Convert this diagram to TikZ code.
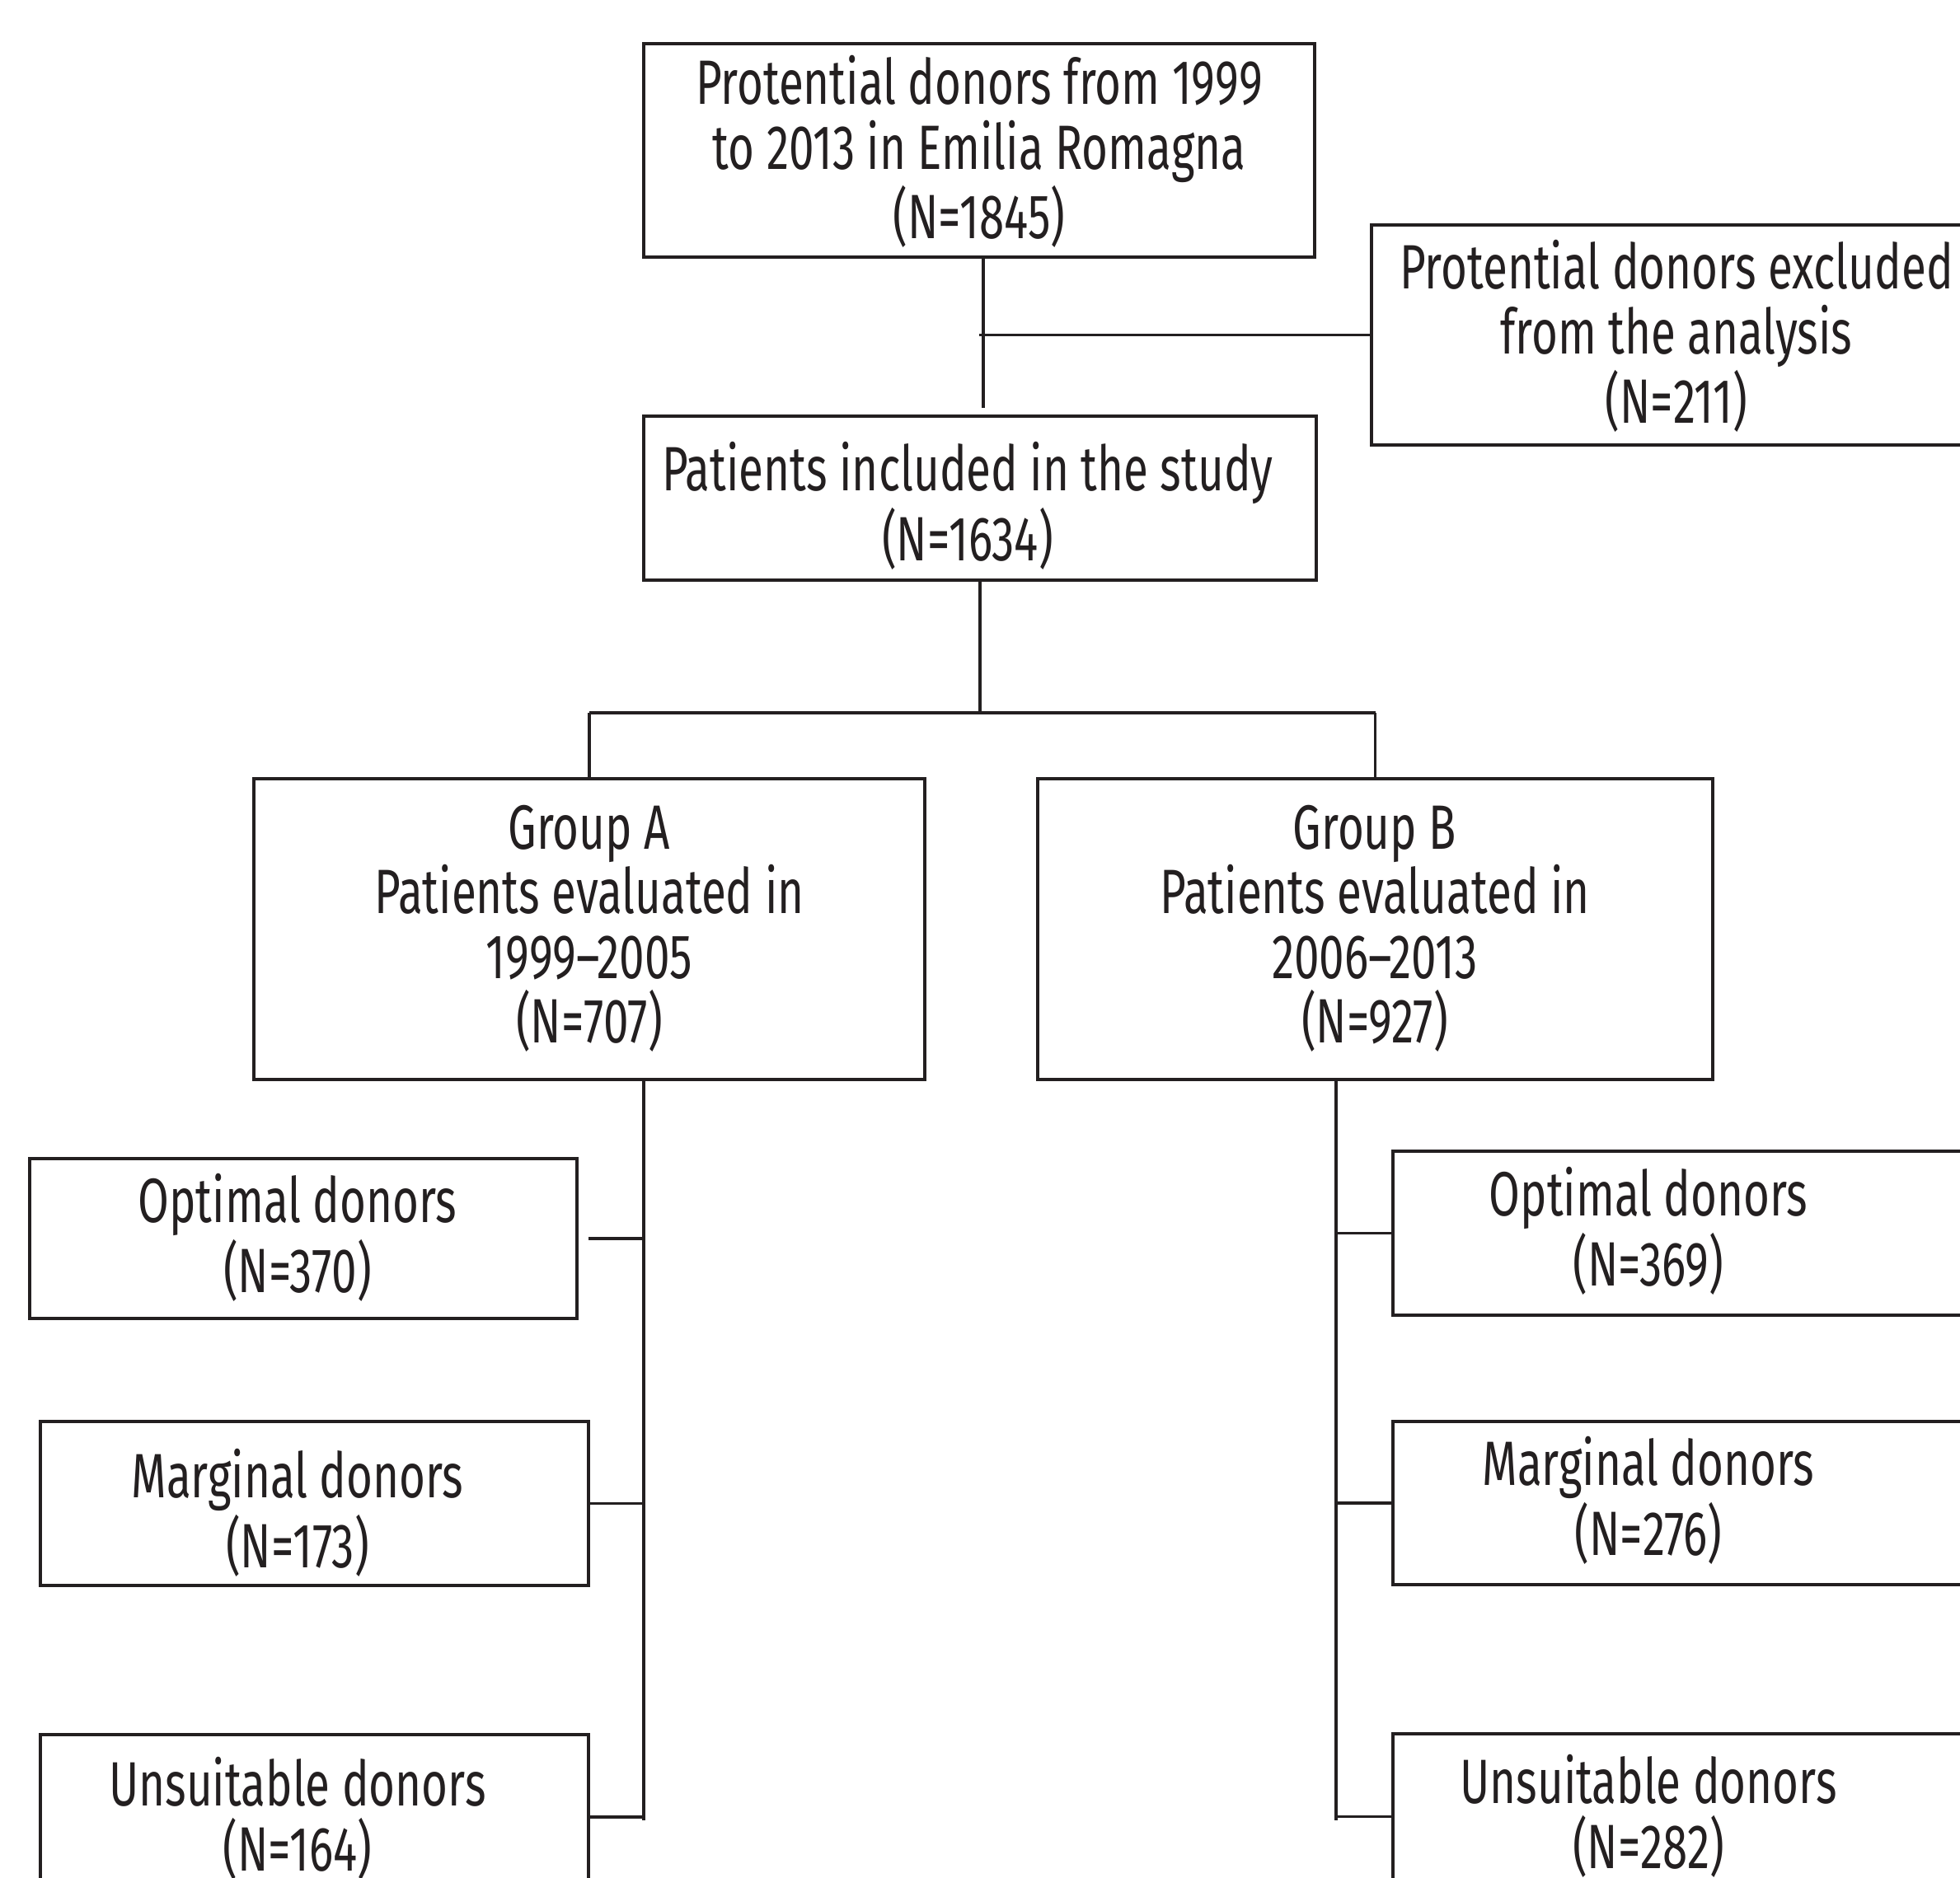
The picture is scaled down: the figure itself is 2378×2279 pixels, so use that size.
\documentclass[tikz,border=0pt]{standalone}
\usepackage{fontspec}
\setmainfont{Fira Sans}[FakeStretch=0.72]
\usetikzlibrary{fit,calc}
\definecolor{ink}{HTML}{231F20}
\begin{document}
\begin{tikzpicture}[x=0.25pt,y=-0.25pt,
  bx/.style={draw=ink,line width=1pt,inner sep=0pt},
  txt/.style={align=center,inner sep=0pt,text=ink,font=\fontsize{19}{19.6}\selectfont},
  cn/.style={draw=ink,line width=0.85pt}]
\useasboundingbox (0,0) rectangle (2378,2279);
\clip (0,0) rectangle (2378,2279);
% boxes
\node[bx,fit={(781,53) (1595,312)}] (top) {};
\node[bx,fit={(1664,273) (2420,540)}] (exc) {};
\node[bx,fit={(781,505) (1597,704)}] (inc) {};
\node[bx,fit={(308,945) (1122,1310)}] (ga) {};
\node[bx,fit={(1259,945) (2078,1310)}] (gb) {};
\node[bx,fit={(36,1406) (700,1600)}] (oa) {};
\node[bx,fit={(49,1725) (714,1924)}] (ma) {};
\node[bx,fit={(49,2105) (714,2305)}] (ua) {};
\node[bx,fit={(1690,1397) (2420,1596)}] (ob) {};
\node[bx,fit={(1690,1725) (2420,1923)}] (mb) {};
\node[bx,fit={(1690,2104) (2420,2305)}] (ub) {};
% texts
\node[txt] (ttop) at (1188,184) {Protential donors from 1999\\to 2013 in Emilia Romagna\\(N=1845)};
\node[txt] (texc) at (2034,408) {Protential donors excluded\\from the analysis\\(N=211)};
\node[txt] (tinc) at (1174,614) {Patients included in the study\\(N=1634)};
\node[txt] (tga) at (715,1127) {Group A\\Patients evaluated in\\1999--2005\\(N=707)};
\node[txt] (tgb) at (1668,1127) {Group B\\Patients evaluated in\\2006--2013\\(N=927)};
\node[txt] (toa) at (361,1502) {Optimal donors\\(N=370)};
\node[txt] (tma) at (361,1836) {Marginal donors\\(N=173)};
\node[txt] (tua) at (361,2207) {Unsuitable donors\\(N=164)};
\node[txt] (tob) at (2000,1494) {Optimal donors\\(N=369)};
\node[txt] (tmb) at (2000,1821) {Marginal donors\\(N=276)};
\node[txt] (tub) at (2000,2204) {Unsuitable donors\\(N=282)};
% connectors
\coordinate (j0) at (1193,495);
\draw[cn] (top.south -| j0) -- (j0);
\draw[cn] (top.south |- exc.west) -- (exc.west);
\draw[cn] (inc.south) -- ++(0,159) coordinate (m);
\draw[cn] (ga.north |- m) -- (gb.north |- m);
\draw[cn] (ga.north |- m) -- (ga.north);
\draw[cn] (gb.north |- m) -- (gb.north);
% group A spine
\coordinate (sa) at (781,1310);
\draw[cn] (sa) -- ($(sa |- ua.east)+(0,4)$);
\draw[cn] ([xshift=3pt]oa.east) -- (sa |- oa.east);
\draw[cn] (ma.east) -- (sa |- ma.east);
\draw[cn] (ua.east) -- (sa |- ua.east);
% group B spine
\coordinate (sb) at (1621,1310);
\draw[cn] (sb) -- ($(sb |- ub.west)+(0,4)$);
\draw[cn] (ob.west) -- (sb |- ob.west);
\draw[cn] (mb.west) -- (sb |- mb.west);
\draw[cn] (ub.west) -- (sb |- ub.west);
\end{tikzpicture}
\end{document}
